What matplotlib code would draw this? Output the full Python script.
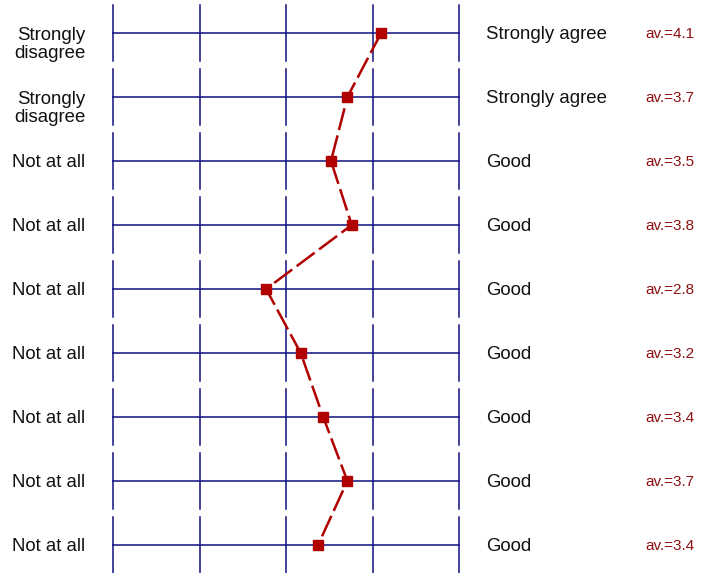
import matplotlib.pyplot as plt

# etiquetas de los extremos y promedios de cada fila
left_labels = ['Strongly\ndisagree', 'Strongly\ndisagree', 'Not at all', 'Not at all', 'Not at all',
               'Not at all', 'Not at all', 'Not at all', 'Not at all']
right_labels = ['Strongly agree', 'Strongly agree', 'Good', 'Good', 'Good',
                'Good', 'Good', 'Good', 'Good']
averages = [4.1, 3.71, 3.52, 3.76, 2.77, 3.17, 3.43, 3.71, 3.37]
scale = [1, 2, 3, 4, 5]

navy = '#101080'
red = '#b00000'
plt.rcParams['font.family'] = 'Liberation Sans'

fig = plt.figure(figsize=(7.14, 5.73), dpi=100)
ax = fig.add_axes([0, 0, 1, 1])
ax.set_xlim(1 - 113 / 86.5, 1 + (714 - 113) / 86.5)
ax.set_ylim((573 - 33) / 64, -33 / 64)
ax.axis('off')

rows = list(range(len(averages)))
for i in rows:
    ax.plot([scale[0], scale[-1]], [i, i], color=navy, lw=1.1, zorder=1)
    for s in scale:
        ax.plot([s, s], [i - 0.44, i + 0.44], color=navy, lw=1.1, zorder=1)
    dy = 0.18 if '\n' in left_labels[i] else 0.02  # dos lineas: la primera queda en la fila
    ax.text(0.68, i + dy, left_labels[i], ha='right', va='center', fontsize=13.4,
            linespacing=1.08, color='#111111')
    ax.text(5.31, i + 0.02, right_labels[i], ha='left', va='center', fontsize=13.4, color='#111111')
    ax.text(7.15, i + 0.02, 'av.=%.1f' % averages[i], ha='left', va='center', fontsize=11,
            color='#8b1010')

ax.plot(averages, rows, color=red, lw=1.8, dashes=(9, 2.2), marker='s', markersize=6.5,
        zorder=3)

fig.savefig('out.png', dpi=100)
